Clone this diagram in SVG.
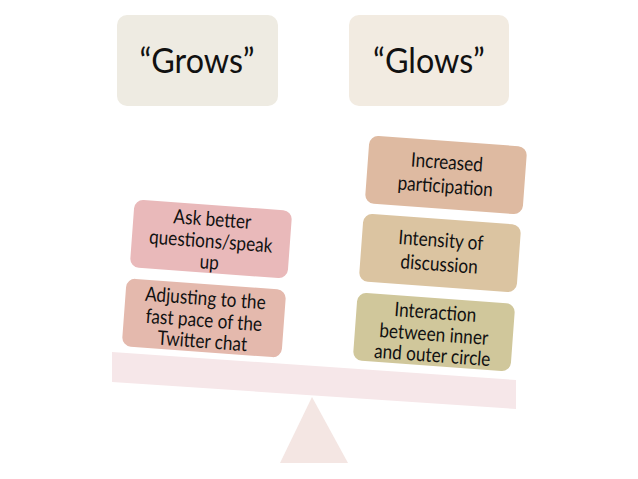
<svg xmlns="http://www.w3.org/2000/svg" width="638" height="479" viewBox="0 0 638 479">
<style>
.t{font-family:Lato,"Open Sans","Liberation Sans",sans-serif;fill:#111;text-anchor:middle}
.h{font-size:34px}
.b{font-size:20px}
</style>
<rect width="638" height="479" fill="#fff"/>
<g id="grows"><rect x="117" y="15" width="161" height="91" rx="10" fill="#EEEBE2"/><text class="t h" x="197" y="73" transform="translate(197 0) scale(0.95 1) translate(-197 0)">“Grows”</text></g>
<g id="glows"><rect x="349" y="15" width="160" height="91" rx="10" fill="#F2EBE1"/><text class="t h" x="429" y="73" transform="translate(429 0) scale(0.95 1) translate(-429 0)">“Glows”</text></g>
<g id="plank"><polygon points="112,352 516,380 516,409 112,382" fill="#F6E7E9"/></g>
<g id="fulcrum"><polygon points="312,397 280,463 348,463" fill="#F4E6E3"/></g>
<g id="ask" transform="translate(211,239) rotate(4.2)"><rect x="-79" y="-34" width="158" height="68" rx="9" fill="#E9B9BA"/><text class="t b" transform="scale(0.86 1)"><tspan x="0" y="-13">Ask better</tspan><tspan x="0" y="9">questions/speak</tspan><tspan x="0" y="30">up</tspan></text></g>
<g id="adjusting" transform="translate(204,318) rotate(4.2)"><rect x="-80" y="-34" width="160" height="68" rx="9" fill="#E4B9AD"/><text class="t b" transform="scale(0.86 1)"><tspan x="0" y="-13">Adjusting to the</tspan><tspan x="0" y="9">fast pace of the</tspan><tspan x="0" y="30">Twitter chat</tspan></text></g>
<g id="increased" transform="translate(446,175) rotate(4.2)"><rect x="-79" y="-34" width="158" height="68" rx="9" fill="#DEBAA1"/><text class="t b" transform="scale(0.86 1)"><tspan x="0" y="-6">Increased</tspan><tspan x="0" y="18">participation</tspan></text></g>
<g id="intensity" transform="translate(440,253) rotate(4.2)"><rect x="-79" y="-34" width="158" height="68" rx="9" fill="#DBC4A1"/><text class="t b" transform="scale(0.86 1)"><tspan x="0" y="-6">Intensity of</tspan><tspan x="0" y="18">discussion</tspan></text></g>
<g id="interaction" transform="translate(434,332) rotate(4.2)"><rect x="-79" y="-34" width="158" height="68" rx="9" fill="#D0C79B"/><text class="t b" transform="scale(0.86 1)"><tspan x="0" y="-13">Interaction</tspan><tspan x="0" y="9">between inner</tspan><tspan x="0" y="30">and outer circle</tspan></text></g>
<g id="connectors"/>
</svg>
